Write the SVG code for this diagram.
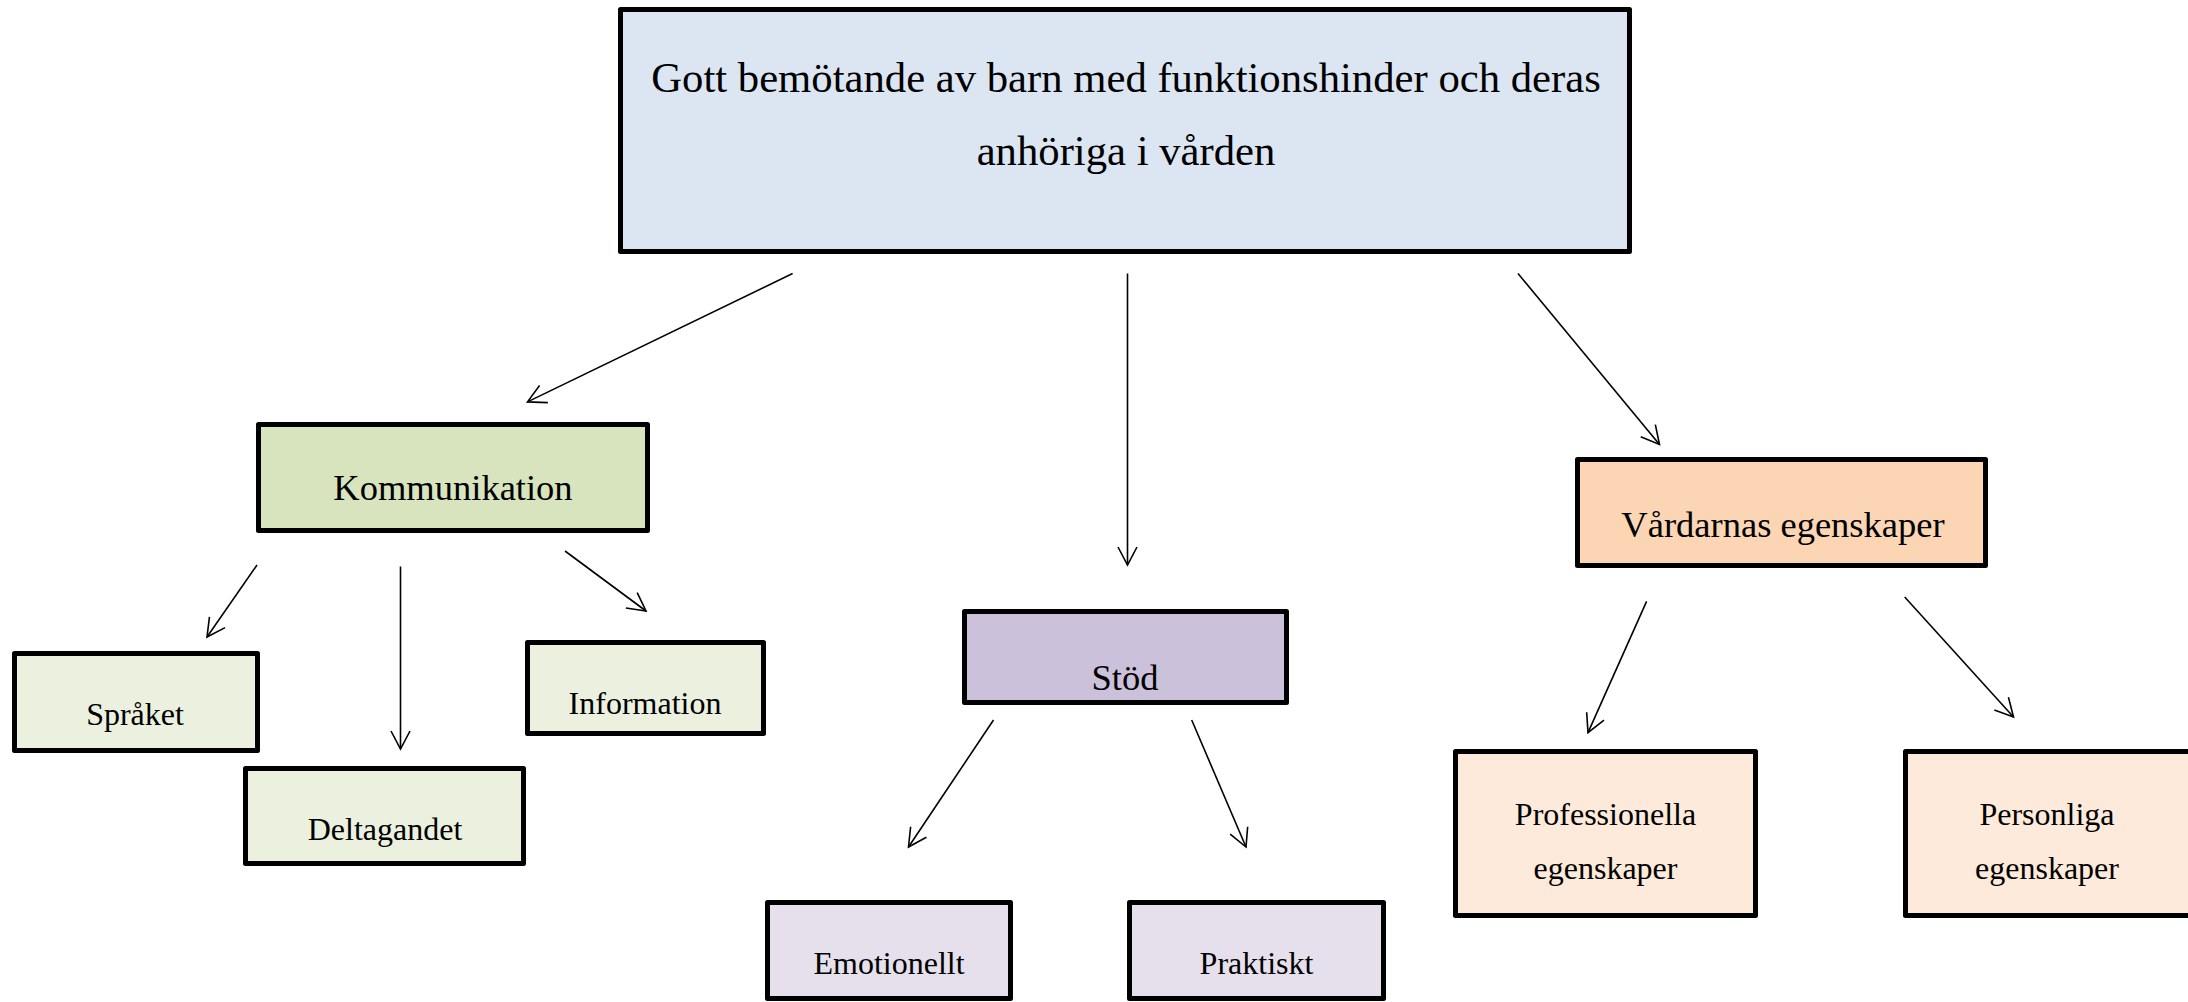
<svg xmlns="http://www.w3.org/2000/svg" width="2188" height="1002" viewBox="0 0 2188 1002">
<style>
  .box { stroke: #000; stroke-width: 5; stroke-linejoin: round; }
  .t { font-family: "Liberation Serif", "Times New Roman", serif; fill: #000; text-anchor: middle; }
  .t1 { font-size: 42.7px; }
  .t2 { font-size: 36.5px; }
  .t3 { font-size: 32px; }
  .c { stroke: #000; stroke-width: 1.6; fill: none; marker-end: url(#arr); }
</style>
<defs>
  <marker id="arr" viewBox="0 0 22 22" refX="20" refY="11" markerWidth="22" markerHeight="22" markerUnits="userSpaceOnUse" orient="auto">
    <path d="M2,1.5 L20,11 L2,20.5" fill="none" stroke="#000" stroke-width="1.6"/>
  </marker>
</defs>
<rect width="2188" height="1002" fill="#fff"/>
<g id="connectors">
  <line class="c" x1="792.6" y1="273.5" x2="527.5" y2="401.9"/>
  <line class="c" x1="1127.5" y1="273.5" x2="1127.5" y2="565"/>
  <line class="c" x1="1518" y1="273.5" x2="1659.5" y2="444.5"/>
  <line class="c" x1="257" y1="565" x2="207" y2="637"/>
  <line class="c" x1="400.5" y1="566.5" x2="400.5" y2="749"/>
  <line class="c" x1="565" y1="551" x2="646" y2="611"/>
  <line class="c" x1="993.5" y1="720" x2="908.5" y2="847"/>
  <line class="c" x1="1191.7" y1="720" x2="1246" y2="847"/>
  <line class="c" x1="1646.6" y1="601.4" x2="1588" y2="732.6"/>
  <line class="c" x1="1904.7" y1="597" x2="2013.5" y2="717"/>
</g>
<g id="node-root">
  <rect class="box" x="620.5" y="9.5" width="1009" height="242" fill="#DCE6F2"/>
  <text class="t t1" x="1126" y="92">Gott bemötande av barn med funktionshinder och deras</text>
  <text class="t t1" x="1126" y="165">anhöriga i vården</text>
</g>
<g id="node-kommunikation">
  <rect class="box" x="258.5" y="424.5" width="389" height="106" fill="#D7E4BD"/>
  <text class="t t2" x="453" y="500">Kommunikation</text>
</g>
<g id="node-spraket">
  <rect class="box" x="14.5" y="653.5" width="243" height="97" fill="#EBF1DE"/>
  <text class="t t3" x="135" y="725">Språket</text>
</g>
<g id="node-deltagandet">
  <rect class="box" x="245.5" y="768.5" width="278" height="95" fill="#EBF1DE"/>
  <text class="t t3" x="385" y="840">Deltagandet</text>
</g>
<g id="node-information">
  <rect class="box" x="527.5" y="642.5" width="236" height="91" fill="#EBF1DE"/>
  <text class="t t3" x="645" y="714">Information</text>
</g>
<g id="node-stod">
  <rect class="box" x="964.5" y="611.5" width="322" height="91" fill="#CCC1DA"/>
  <text class="t t2" x="1125" y="690">Stöd</text>
</g>
<g id="node-emotionellt">
  <rect class="box" x="767.5" y="902.5" width="243" height="96" fill="#E5E0EC"/>
  <text class="t t3" x="889" y="974">Emotionellt</text>
</g>
<g id="node-praktiskt">
  <rect class="box" x="1129.5" y="902.5" width="254" height="96" fill="#E5E0EC"/>
  <text class="t t3" x="1256.5" y="974">Praktiskt</text>
</g>
<g id="node-vardarnas">
  <rect class="box" x="1577.5" y="459.5" width="408" height="106" fill="#FCD5B5"/>
  <text class="t t2" x="1783" y="537">Vårdarnas egenskaper</text>
</g>
<g id="node-professionella">
  <rect class="box" x="1455.5" y="751.5" width="300" height="164" fill="#FDEADA"/>
  <text class="t t3" x="1605.5" y="825">Professionella</text>
  <text class="t t3" x="1605.5" y="879">egenskaper</text>
</g>
<g id="node-personliga">
  <rect class="box" x="1905.5" y="751.5" width="300" height="164" fill="#FDEADA"/>
  <text class="t t3" x="2047" y="825">Personliga</text>
  <text class="t t3" x="2047" y="879">egenskaper</text>
</g>
</svg>
